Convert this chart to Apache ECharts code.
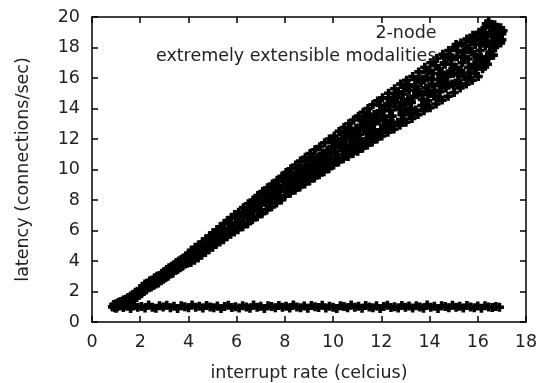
<!DOCTYPE html>
<html>
<head>
<meta charset="utf-8">
<script src="https://cdn.jsdelivr.net/npm/echarts@6/dist/echarts.min.js"></script>
<style>
html,body{margin:0;padding:0;background:#fff;}
#chart{width:539px;height:383px;}
</style>
</head>
<body>
<div id="chart"></div>
<script>
// ---- data ----
var xTicks = [0, 2, 4, 6, 8, 10, 12, 14, 16, 18];
var yTicks = [0, 2, 4, 6, 8, 10, 12, 14, 16, 18, 20];
var seriesNames = ['2-node', 'extremely extensible modalities'];

// diagonal cloud (2-node)
var diagPoints = [
[0.85,1.0],[0.9,1.15],[0.95,0.95],[1.0,1.2],[1.05,1.0],[1.1,1.3],[1.15,1.05],[1.2,1.35],[1.25,1.1],[1.3,1.45],[1.35,1.2],[1.4,1.5],
[1.45,1.3],[1.5,1.6],[1.55,1.35],[1.6,1.7],[1.65,1.45],[1.7,1.8],[1.75,1.55],[1.8,1.95],[1.85,1.6],[1.9,2.0],[1.95,1.75],[2.0,2.2],
[2.05,1.85],[2.1,2.35],[2.15,2.0],[2.2,2.5],[2.25,2.1],[2.3,2.55],[2.35,2.25],[2.4,2.7],[2.45,2.3],[2.5,2.75],[2.55,2.4],[2.6,2.9],
[2.65,2.5],[2.7,3.0],[2.75,2.55],[2.8,3.05],[2.85,2.7],[2.9,3.2],[2.95,2.8],[3.0,3.3],[3.05,2.9],[3.1,3.45],[3.15,3.0],[3.2,3.55],
[3.25,3.15],[3.3,3.65],[3.35,3.2],[3.4,3.75],[3.45,3.4],[3.5,3.9],[3.55,3.45],[3.6,4.0],[3.65,3.55],[3.7,4.1],[3.75,3.65],[3.8,4.2],
[3.85,3.8],[3.9,4.35],[3.95,3.85],[4.0,4.45],[2.3,2.3],[2.7,2.75],[3.1,3.15],[3.5,3.6],[3.9,4.05],
[4.1,3.9],[4.12,4.7],[4.15,4.3],[4.25,4.05],[4.28,4.9],[4.3,4.5],[4.4,4.2],[4.42,5.05],[4.45,4.65],[4.55,4.4],[4.58,5.25],[4.6,4.85],
[4.7,4.55],[4.72,5.45],[4.75,5.0],[4.85,4.75],[4.88,5.65],[4.9,5.2],[5.0,4.9],[5.02,5.85],[5.05,5.35],[5.15,5.1],[5.18,6.05],[5.2,5.6],
[5.3,5.25],[5.32,6.25],[5.35,5.8],[5.45,5.4],[5.48,6.45],[5.5,5.95],[5.6,5.6],[5.62,6.65],[5.65,6.1],[5.75,5.75],[5.78,6.85],[5.8,6.3],
[5.9,5.9],[5.92,7.05],[5.95,6.45],
[6.05,6.05],[6.08,7.2],[6.1,6.6],[6.12,6.95],[6.25,6.25],[6.28,7.5],[6.3,6.85],[6.32,7.15],[6.45,6.45],[6.48,7.75],[6.5,7.1],[6.52,7.4],
[6.65,6.7],[6.68,8.0],[6.7,7.3],[6.72,7.65],[6.85,6.9],[6.88,8.3],[6.9,7.6],[6.92,7.95],[7.05,7.1],[7.08,8.55],[7.1,7.85],[7.12,8.2],
[7.25,7.35],[7.28,8.8],[7.3,8.05],[7.32,8.45],[7.45,7.55],[7.48,9.05],[7.5,8.3],[7.52,8.7],[7.65,7.8],[7.68,9.3],[7.7,8.5],[7.72,8.95],
[7.85,8.0],[7.88,9.55],[7.9,8.75],[7.92,9.2],
[8.0,8.25],[8.05,9.8],[8.08,9.0],[8.12,8.6],[8.15,9.4],[8.22,8.45],[8.25,10.05],[8.3,9.2],[8.32,8.8],[8.35,9.6],
[8.42,8.65],[8.45,10.3],[8.5,9.5],[8.52,9.0],[8.55,9.9],[8.62,8.85],[8.65,10.55],[8.7,9.7],[8.72,9.25],[8.75,10.1],
[8.82,9.05],[8.85,10.8],[8.9,9.9],[8.92,9.45],[8.95,10.35],[9.02,9.25],[9.05,11.05],[9.1,10.1],[9.12,9.65],[9.15,10.6],
[9.22,9.45],[9.25,11.3],[9.3,10.35],[9.32,9.9],[9.35,10.8],[9.42,9.65],[9.45,11.5],[9.5,10.55],[9.52,10.1],[9.55,11.05],
[9.62,9.85],[9.65,11.75],[9.7,10.8],[9.72,10.3],[9.75,11.25],[9.82,10.05],[9.85,12.0],[9.9,11.0],[9.92,10.5],[9.95,11.5],
[10.02,10.3],[10.05,12.2],[10.08,11.2],[10.12,10.75],[10.15,11.7],[10.22,10.5],[10.25,12.5],[10.3,11.45],[10.35,12.0],[10.38,10.95],
[10.42,10.7],[10.45,12.75],[10.5,11.65],[10.55,12.2],[10.58,11.15],[10.62,10.85],[10.65,13.0],[10.7,11.9],[10.75,12.45],[10.78,11.35],
[10.82,11.05],[10.85,13.25],[10.9,12.1],[10.95,12.7],[10.98,11.55],[11.02,11.2],[11.05,13.5],[11.1,12.3],[11.15,12.9],[11.18,11.8],
[11.22,11.4],[11.25,13.75],[11.3,12.55],[11.35,13.1],[11.38,12.0],[11.42,11.6],[11.45,14.0],[11.5,12.75],[11.55,13.4],[11.58,12.2],
[11.62,11.8],[11.65,14.25],[11.7,13.0],[11.75,13.6],[11.78,12.4],[11.82,12.0],[11.85,14.5],[11.9,13.2],[11.95,13.85],[11.98,12.6],
[12.02,12.2],[12.05,14.7],[12.1,13.5],[12.15,14.1],[12.18,12.75],[12.2,13.1],[12.27,12.45],[12.3,15.0],[12.35,13.85],[12.4,14.4],[12.43,12.95],
[12.52,12.65],[12.55,15.3],[12.6,14.1],[12.65,14.7],[12.68,13.1],[12.77,12.9],[12.8,15.6],[12.85,14.4],[12.9,14.95],[12.93,13.3],
[13.02,13.1],[13.05,15.85],[13.1,14.6],[13.15,15.2],[13.18,13.6],[13.2,14.0],[13.27,13.35],[13.3,16.1],[13.35,14.8],[13.4,15.45],[13.43,13.9],
[13.52,13.6],[13.55,16.4],[13.6,15.1],[13.65,15.7],[13.68,14.2],[13.7,14.6],[13.77,13.85],[13.8,16.7],[13.85,15.35],[13.9,16.0],[13.93,14.5],
[14.02,14.05],[14.05,17.0],[14.1,15.6],[14.15,16.3],[14.18,14.8],[14.27,14.3],[14.3,17.3],[14.35,15.9],[14.4,16.6],[14.43,15.1],[14.45,15.5],
[14.52,14.55],[14.55,17.55],[14.6,16.2],[14.65,16.9],[14.68,15.35],[14.77,14.8],[14.8,17.8],[14.85,16.45],[14.9,17.2],[14.93,15.6],
[15.02,15.05],[15.05,18.0],[15.1,16.7],[15.15,17.4],[15.18,15.85],[15.2,16.2],[15.27,15.35],[15.3,18.3],[15.35,17.0],[15.4,17.7],[15.43,16.1],
[15.52,15.6],[15.55,18.55],[15.6,17.25],[15.65,17.95],[15.68,16.35],[15.77,15.85],[15.8,18.8],[15.85,17.55],[15.9,18.2],[15.93,16.6],
[16.02,16.1],[16.05,19.0],[16.1,17.8],[16.15,18.5],[16.18,16.8],[16.25,17.1],[16.3,19.3],[16.32,18.1],[16.35,18.8],[16.38,17.4],
[16.45,19.7],[16.5,18.9],[16.55,19.4],[16.6,18.4],[16.62,17.8],[16.7,19.5],[16.75,18.9],[16.8,18.2],[16.85,19.2],[16.9,18.7],
[16.95,19.3],[17.0,18.9],[17.05,19.1],[16.7,18.0],[16.5,17.7],
[4.2,4.55],[4.35,4.4],[4.5,4.9],[4.65,4.75],[4.8,5.3],[4.95,5.05],[5.1,5.65],[5.25,5.45],[5.4,6.0],[5.55,5.8],[5.7,6.5],[5.85,6.15],
[6.0,6.8],[6.15,6.4],[6.35,7.3],[6.55,6.9],[6.75,7.9],[6.95,7.35],[7.15,8.4],[7.35,7.9],[7.55,8.9],[7.75,8.3],[7.95,9.4],[6.4,7.0],
[6.8,7.5],[7.2,7.8],[7.6,8.2],[7.8,8.7],
[8.1,9.2],[8.2,9.7],[8.4,9.35],[8.6,10.0],[8.8,9.6],[8.95,10.6],[9.15,9.9],[9.2,10.75],[9.4,10.3],[9.6,11.0],[9.8,10.65],[9.9,11.3],
[10.1,11.0],[10.2,11.85],[10.4,11.3],[10.5,12.4],[10.7,11.6],[10.8,12.2],[11.0,12.6],[11.1,12.0],[11.3,13.3],[11.4,12.4],[11.6,12.9],
[11.7,13.6],[11.9,12.3],[12.0,13.8],
[12.1,12.9],[12.25,14.3],[12.45,13.5],[12.6,14.9],[12.75,14.0],[12.95,15.4],[13.0,13.8],[13.25,14.4],[13.4,15.9],[13.5,14.9],
[13.75,15.9],[13.85,14.2],[14.0,16.5],[14.2,15.2],[14.25,16.8],[14.5,15.8],[14.6,17.0],[14.75,16.1],[14.9,16.9],[15.0,15.5],
[15.15,17.8],[15.3,16.5],[15.45,17.3],[15.6,16.0],[15.7,18.4],[15.85,16.9],[16.0,17.3],[16.1,18.2],[16.2,16.6],[16.4,18.4],
[16.45,17.3],[16.6,19.0],[16.65,17.5],[16.8,18.6],[16.95,18.3],
[8.3,8.95],[8.45,9.75],[8.68,9.4],[8.9,10.15],[9.1,9.5],[9.28,10.55],[9.48,9.85],[9.58,10.8],[9.78,10.45],[9.98,11.8],
[10.15,10.55],[10.32,11.75],[10.48,12.05],[10.6,11.4],[10.72,12.65],[10.9,11.8],[11.08,12.7],[11.2,13.2],[11.33,11.75],[11.5,13.6],
[11.68,12.6],[11.8,13.35],[11.95,14.2],
[12.12,13.25],[12.3,14.7],[12.38,13.2],[12.55,14.45],[12.7,15.1],[12.85,13.6],[13.0,14.25],[13.12,15.55],[13.3,13.7],[13.45,15.2],
[13.6,16.0],[13.72,14.9],[13.88,16.35],[13.95,15.0],
[14.08,15.9],[14.2,17.1],[14.35,14.7],[14.48,16.3],[14.62,17.35],[14.7,15.7],[14.85,17.5],[14.98,16.3],[15.1,18.2],[15.22,15.65],
[15.35,17.4],[15.5,18.1],[15.62,16.7],[15.75,17.7],[15.9,16.3],[15.95,18.6],[16.1,17.1],[16.2,19.1],[16.28,18.5],[16.4,16.9],
[16.55,18.1],[16.7,18.7],[16.9,19.0],[17.0,18.5],[16.35,19.55]
];

// flat band near 1 (extremely extensible modalities)
var flatX = [0.85,1.0,1.15,1.3,1.45,1.6,1.75,1.9,2.05,2.2,2.35,2.5,2.65,2.8,2.95,3.1,3.25,3.4,3.55,3.7,3.85,4.0,4.15,4.3,4.45,4.6,4.75,4.9,5.05,5.2,5.35,5.5,5.65,5.8,5.95,6.1,6.25,6.4,6.55,6.7,6.85,7.0,7.15,7.3,7.45,7.6,7.75,7.9,8.05,8.2,8.35,8.5,8.65,8.8,8.95,9.1,9.25,9.4,9.55,9.7,9.85,10.0,10.15,10.3,10.45,10.6,10.75,10.9,11.05,11.2,11.35,11.5,11.65,11.8,11.95,12.1,12.25,12.4,12.55,12.7,12.85,13.0,13.15,13.3,13.45,13.6,13.75,13.9,14.05,14.2,14.35,14.5,14.65,14.8,14.95,15.1,15.25,15.4,15.55,15.7,15.85,16.0,16.15,16.3,16.45,16.6,16.75,16.9];
var flatY = [
1.00,0.90,1.10,0.95,1.05,0.88,1.08,0.97,1.02,0.92,1.12,0.96,
0.90,1.06,0.99,1.10,0.93,1.03,0.89,1.07,1.00,0.94,1.11,0.97,
1.04,0.91,1.09,0.98,0.93,1.05,0.88,1.02,1.10,0.95,1.00,0.92,
1.07,0.99,0.90,1.11,0.96,1.03,0.89,1.06,1.01,0.94,1.09,0.97,
1.04,0.91,1.12,0.98,0.93,1.05,0.90,1.08,1.00,0.95,1.10,0.92,
1.03,0.97,0.89,1.07,1.01,0.94,1.11,0.96,1.04,0.90,1.08,0.99,
0.93,1.06,0.88,1.02,1.10,0.95,1.00,0.91,1.09,0.97,1.05,0.92,
1.07,0.98,0.90,1.12,0.96,1.03,0.89,1.06,1.01,0.94,1.10,0.97,
1.04,0.91,1.08,0.98,0.93,1.05,0.90,1.07,0.99,0.95,1.02,0.97
];

// ---- chart ----
var flatPoints = flatX.map(function (x, i) { return [x, flatY[i]]; });
var PLUS = 'path://M2.7,0h3.6v2.7h2.7v3.6h-2.7v2.7h-3.6v-2.7h-2.7v-3.6h2.7z';
var FONT = 'DejaVu Sans';
var TXT = '#222';

function mkX(show, pos) {
  return {
    type: 'value', position: pos, min: 0, max: 18, interval: 2,
    axisLine: { show: true, onZero: false, lineStyle: { color: '#000', width: 1.5 } },
    axisTick: { show: true, inside: true, length: 6, lineStyle: { color: '#000', width: 1.5 } },
    axisLabel: { show: show, margin: 11, color: TXT, fontFamily: FONT, fontSize: 17.5 },
    splitLine: { show: false },
    name: show ? 'interrupt rate (celcius)' : '',
    nameLocation: 'middle', nameGap: 42,
    nameTextStyle: { color: TXT, fontFamily: FONT, fontSize: 17.5 }
  };
}
function mkY(show, pos) {
  return {
    type: 'value', position: pos, min: 0, max: 20, interval: 2,
    axisLine: { show: true, onZero: false, lineStyle: { color: '#000', width: 1.5 } },
    axisTick: { show: true, inside: true, length: 6, lineStyle: { color: '#000', width: 1.5 } },
    axisLabel: { show: show, margin: 12, color: TXT, fontFamily: FONT, fontSize: 17.5 },
    splitLine: { show: false },
    name: show ? 'latency (connections/sec)' : '',
    nameLocation: 'middle', nameGap: 60, nameRotate: 90,
    nameTextStyle: { color: TXT, fontFamily: FONT, fontSize: 17.5 }
  };
}

var chart = echarts.init(document.getElementById('chart'), null, { renderer: 'canvas' });
chart.setOption({
  animation: false,
  backgroundColor: '#fff',
  grid: { left: 92, right: 13, top: 17, bottom: 61, containLabel: false, outerBoundsMode: 'none' },
  xAxis: [mkX(true, 'bottom'), mkX(false, 'top')],
  yAxis: [mkY(true, 'left'), mkY(false, 'right')],
  legend: {
    show: true, orient: 'vertical', align: 'right', right: 54, top: 23,
    padding: 0, itemGap: 2, itemWidth: 80, itemHeight: 7,
    data: seriesNames,
    textStyle: { color: TXT, fontFamily: FONT, fontSize: 17.5, lineHeight: 21 }
  },
  series: [
    { name: seriesNames[0], type: 'scatter', xAxisIndex: 0, yAxisIndex: 0,
      symbol: PLUS, symbolSize: 9, itemStyle: { color: '#000', opacity: 1 },
      data: diagPoints, silent: true },
    { name: seriesNames[1], type: 'scatter', xAxisIndex: 0, yAxisIndex: 0,
      symbol: PLUS, symbolSize: 9, itemStyle: { color: '#000', opacity: 1 },
      data: flatPoints, silent: true }
  ]
});
</script>
</body>
</html>
